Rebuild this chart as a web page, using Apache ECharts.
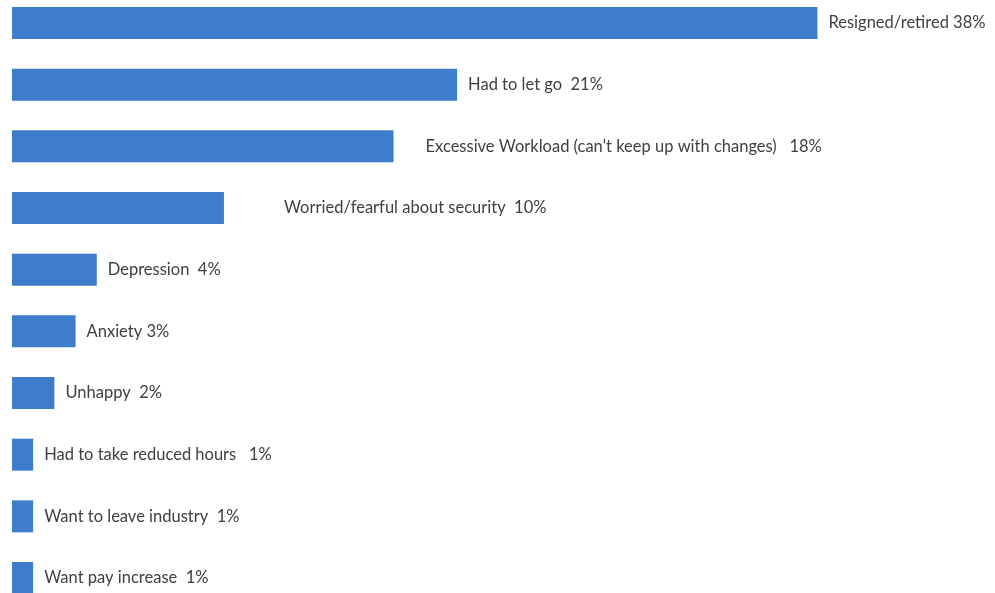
<!DOCTYPE html>
<html>
<head>
<meta charset="utf-8">
<script src="https://cdn.jsdelivr.net/npm/echarts@6/dist/echarts.min.js"></script>
<style>
html,body{margin:0;padding:0;background:#fff;}
#chart{width:995px;height:593px;}
</style>
</head>
<body>
<div id="chart"></div>
<script>
const categories = [
  "Resigned/retired",
  "Had to let go",
  "Excessive Workload (can't keep up with changes)",
  "Worried/fearful about security",
  "Depression",
  "Anxiety",
  "Unhappy",
  "Had to take reduced hours",
  "Want to leave industry",
  "Want pay increase"
];
const values = [38, 21, 18, 10, 4, 3, 2, 1, 1, 1];
const separators = [" ", "  ", "   ", "  ", "  ", " ", "  ", "   ", "  ", "  "];

const extraLabelShift = {
  "Excessive Workload (can't keep up with changes)": 21,
  "Worried/fearful about security": 49
};

const chart = echarts.init(document.getElementById('chart'));
const fontFamily = "Lato, 'Open Sans', sans-serif";
chart.setOption({
  animation: false,
  grid: { left: 12, right: 8, top: 23, bottom: 15, containLabel: false },
  xAxis: { type: 'value', min: 0, max: 46, show: false },
  yAxis: { type: 'category', data: categories, inverse: true, show: false, boundaryGap: false },
  series: [{
    type: 'bar',
    barWidth: 32,
    itemStyle: { color: '#3e7dcc' },
    data: values.map((v, i) => ({
      value: v,
      label: {
        show: true,
        position: 'right',
        distance: 11,
        offset: [extraLabelShift[categories[i]] || 0, 0],
        formatter: categories[i] + separators[i] + v + '%',
        color: '#404040',
        fontSize: 16.5,
        fontFamily: fontFamily
      }
    }))
  }]
});
</script>
</body>
</html>
